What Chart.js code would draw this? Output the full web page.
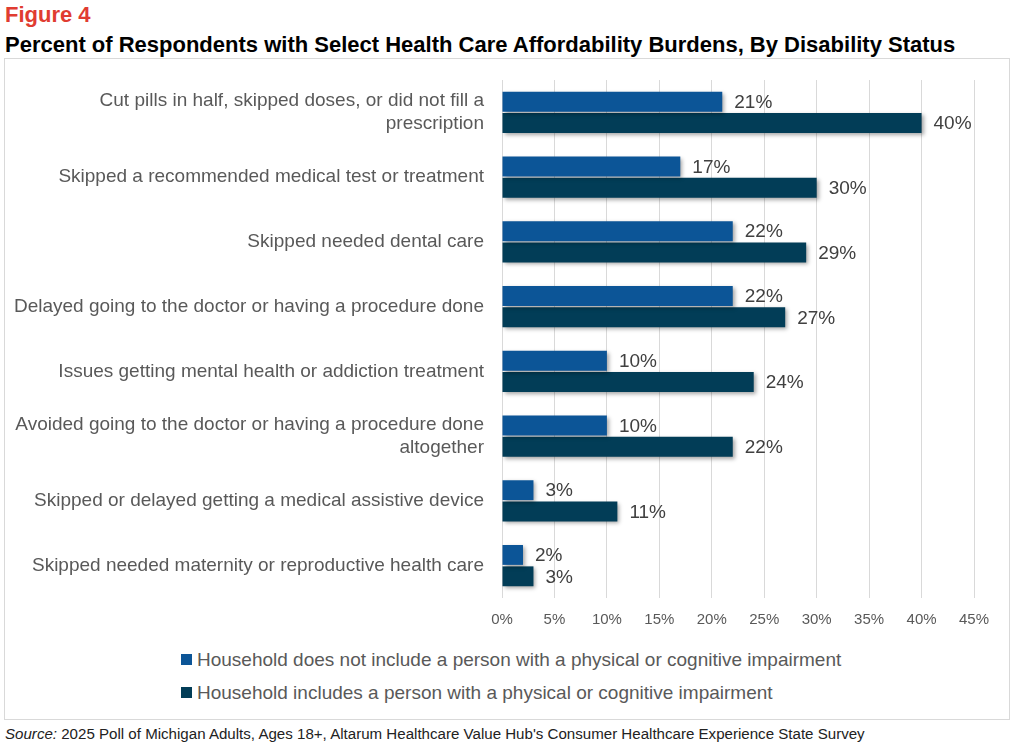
<!DOCTYPE html>
<html>
<head>
<meta charset="utf-8">
<script src="https://cdn.jsdelivr.net/npm/chart.js@4/dist/chart.umd.min.js"></script>
<style>
  body { margin: 0; background: #fff; width: 1018px; height: 745px; position: relative; overflow: hidden; font-family: "Liberation Sans", Arial, sans-serif; }
  #fig { position: absolute; left: 5px; top: 2px; font-size: 22px; font-weight: bold; color: #e03c31; }
  #title { position: absolute; left: 5px; top: 32px; font-size: 22px; font-weight: bold; color: #000; white-space: nowrap; }
  #box { position: absolute; left: 4px; top: 58px; width: 1004px; height: 660px; border: 1px solid #d9d9d9; }
  #wrap { position: absolute; left: 0; top: 0; width: 1004px; height: 580px; }
  #legend { position: absolute; left: 176px; top: 584px; font-size: 19px; color: #595959; }
  #legend div { height: 33px; display: flex; align-items: center; }
  #legend span.sw { display: inline-block; width: 11px; height: 11px; margin-right: 5px; }
  #source { position: absolute; left: 5px; top: 725px; font-size: 15.1px; color: #222; white-space: nowrap; }
</style>
</head>
<body>
<div id="fig">Figure 4</div>
<div id="title">Percent of Respondents with Select Health Care Affordability Burdens, By Disability Status</div>
<div id="box">
  <div id="wrap"><canvas id="chart"></canvas></div>
  <div id="legend"></div>
</div>
<div id="source"><i>Source:</i> 2025 Poll of Michigan Adults, Ages 18+, Altarum Healthcare Value Hub's Consumer Healthcare Experience State Survey</div>
<script>
// Categories (multi-line ones as arrays)
const categories = [
    ['Cut pills in half, skipped doses, or did not fill a', 'prescription'],
    'Skipped a recommended medical test or treatment',
    'Skipped needed dental care',
    'Delayed going to the doctor or having a procedure done',
    'Issues getting mental health or addiction treatment',
    ['Avoided going to the doctor or having a procedure done', 'altogether'],
    'Skipped or delayed getting a medical assistive device',
    'Skipped needed maternity or reproductive health care'
];

const seriesNames = [
    'Household does not include a person with a physical or cognitive impairment',
    'Household includes a person with a physical or cognitive impairment'
];

const noImpairment = [21, 17, 22, 22, 10, 10, 3, 2];
const withImpairment = [40, 30, 29, 27, 24, 22, 11, 3];

const xTicks = [0, 5, 10, 15, 20, 25, 30, 35, 40, 45];

const colors = ['#0c5597', '#023d57'];

// sombra suave debajo de las barras
const barShadow = {
    id: 'barShadow',
    beforeDatasetsDraw(chart) {
        const c = chart.ctx;
        c.save();
        c.shadowColor = 'rgba(0,0,0,0.35)';
        c.shadowBlur = 4;
        c.shadowOffsetX = 2;
        c.shadowOffsetY = 2;
    },
    afterDatasetsDraw(chart) {
        chart.ctx.restore();
    }
};

// etiquetas de valor al final de cada barra
const valueLabels = {
    id: 'valueLabels',
    afterDatasetsDraw(chart) {
        const c = chart.ctx;
        c.save();
        c.font = '19px "Liberation Sans", Arial, sans-serif';
        c.fillStyle = '#404040';
        c.textBaseline = 'middle';
        c.textAlign = 'left';
        chart.data.datasets.forEach((ds, i) => {
            chart.getDatasetMeta(i).data.forEach((bar, j) => {
                c.fillText(ds.data[j] + '%', bar.x + 12, bar.y + 1);
            });
        });
        c.restore();
    }
};

const ctx = document.getElementById('chart').getContext('2d');
const chart = new Chart(ctx, {
    type: 'bar',
    data: {
        labels: categories,
        datasets: [
            { label: seriesNames[0], data: noImpairment, backgroundColor: colors[0] },
            { label: seriesNames[1], data: withImpairment, backgroundColor: colors[1] }
        ]
    },
    options: {
        indexAxis: 'y',
        responsive: true,
        maintainAspectRatio: false,
        animation: false,
        categoryPercentage: 0.66,
        barPercentage: 0.93,
        layout: { padding: { top: 21, right: 35, bottom: 0, left: 0 } },
        plugins: {
            legend: { display: false },
            tooltip: { enabled: false }
        },
        scales: {
            x: {
                min: 0,
                max: 45,
                afterBuildTicks: (s) => { s.ticks = xTicks.map(v => ({ value: v })); },
                afterFit: (s) => { s.height = 41; },
                grid: { color: '#d9d9d9', lineWidth: 1, drawTicks: false },
                border: { display: false },
                ticks: {
                    padding: 13,
                    color: '#595959',
                    font: { family: '"Liberation Sans", Arial, sans-serif', size: 15 },
                    callback: (v) => v + '%'
                }
            },
            y: {
                // ancho fijo y sin relleno extra por las etiquetas de dos líneas
                afterFit: (s) => { s.width = 497; s.paddingTop = 0; s.paddingBottom = 0; },
                grid: { display: false, drawTicks: false },
                border: { display: false },
                ticks: {
                    padding: 18,
                    color: '#595959',
                    font: { family: '"Liberation Sans", Arial, sans-serif', size: 19, lineHeight: 1.21 }
                }
            }
        }
    },
    plugins: [barShadow, valueLabels]
});

// leyenda en HTML para alinear las dos filas a la izquierda
const legendEl = document.getElementById('legend');
chart.data.datasets.forEach(ds => {
    const row = document.createElement('div');
    row.innerHTML = '<span class="sw" style="background:' + ds.backgroundColor + '"></span>' + ds.label;
    legendEl.appendChild(row);
});
</script>
</body>
</html>
